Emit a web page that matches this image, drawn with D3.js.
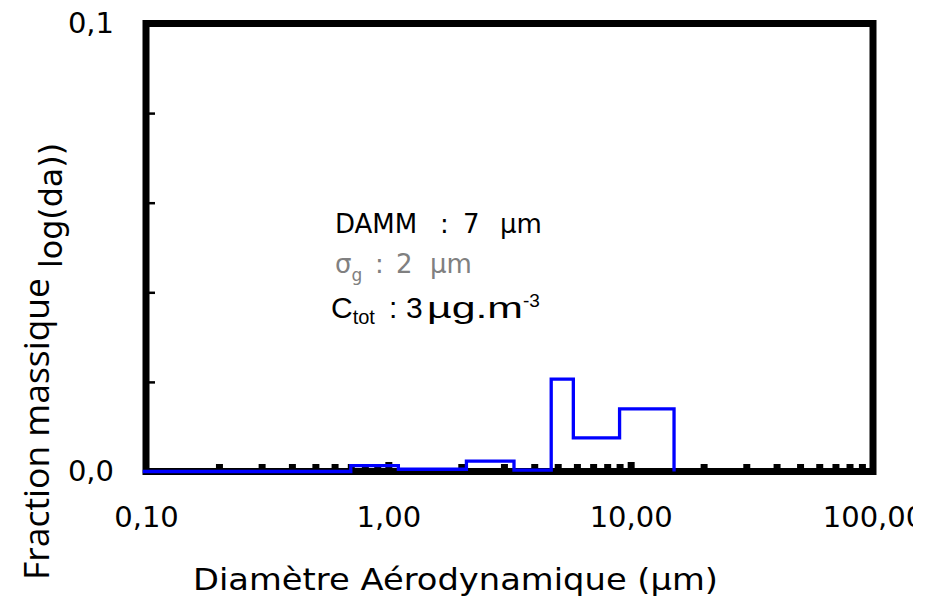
<!DOCTYPE html>
<html>
<head>
<meta charset="utf-8">
<script src="https://cdn.jsdelivr.net/npm/d3@7"></script>
<style>
  html, body { margin: 0; padding: 0; background: #fff; }
  svg { display: block; }
</style>
</head>
<body>
<div id="chart"></div>
<script>
// Impactor size bins (µm): lower edges, last entry is the upper edge of the last bin
const binEdges = [0.097, 0.7, 1.1, 2.1, 3.3, 4.7, 5.8, 9.0, 15.1];
// Mass fraction per bin, dM/dlog(da)
const massFraction = [0, 0.0013, 0.0005, 0.0023, 0.0003, 0.0206, 0.0075, 0.014];

const xLabelTicks = [0.1, 1, 10, 100];
const yLabelTicks = [0, 0.1];
const yMinorTicks = [0.02, 0.04, 0.06, 0.08];

const annotation = {
  dammValue: "7",
  sigmaValue: "2",
  ctotValue: "3",
  unit: "µm",
  ctotUnit: "µg.m"
};

const width = 913, height = 602;
const x0 = 146, x1 = 873, yTop = 23.5, yBottom = 471.5;

const fr = d3.formatLocale({ decimal: ",", thousands: " ", grouping: [3], currency: ["", ""] });

const svg = d3.select("#chart").append("svg")
  .attr("width", width).attr("height", height);

const x = d3.scaleLog().domain([0.1, 100]).range([x0, x1]);
const y = d3.scaleLinear().domain([0, 0.1]).range([yBottom, yTop]);

// plot frame
svg.append("rect")
  .attr("x", x0).attr("y", yTop)
  .attr("width", x1 - x0).attr("height", yBottom - yTop)
  .attr("fill", "none").attr("stroke", "#000").attr("stroke-width", 7);

// x minor / major ticks pointing inward from the bottom frame
const logTicks = [];
for (let dec = 0.1; dec < 100; dec *= 10) {
  for (let k = 1; k < 10; k++) logTicks.push(+(dec * k).toPrecision(3));
}
const xMinor = logTicks.filter(v => v > 0.1 && ![1, 10].includes(v));
const xMajor = [1, 10];

const tickStyle = g => {
  g.select(".domain").remove();
  g.selectAll(".tick line").attr("stroke", "#000").attr("stroke-width", 7);
};
svg.append("g").attr("transform", `translate(0,${yBottom})`)
  .call(d3.axisBottom(x).tickValues(xMinor).tickSize(-7.5).tickFormat(""))
  .call(tickStyle);
svg.append("g").attr("transform", `translate(0,${yBottom})`)
  .call(d3.axisBottom(x).tickValues(xMajor).tickSize(-9.5).tickFormat(""))
  .call(tickStyle);

// y ticks pointing inward from the left frame
svg.append("g").attr("transform", `translate(${x0},0)`)
  .call(d3.axisLeft(y).tickValues(yMinorTicks).tickSize(-9).tickFormat(""))
  .call(g => {
    g.select(".domain").remove();
    g.selectAll(".tick line").attr("stroke", "#000").attr("stroke-width", 2.5);
  });

// tick labels
svg.append("g").attr("transform", `translate(0,${yBottom})`)
  .call(d3.axisBottom(x).tickValues(xLabelTicks).tickSize(0).tickPadding(35)
    .tickFormat(fr.format(".2f")))
  .call(g => {
    g.select(".domain").remove();
    g.selectAll("text").attr("font-family", "DejaVu Sans").attr("font-size", 29).attr("fill", "#000");
  });
svg.append("g").attr("transform", `translate(${x0},0)`)
  .call(d3.axisLeft(y).tickValues(yLabelTicks).tickSize(0).tickPadding(32)
    .tickFormat(fr.format(".1f")))
  .call(g => {
    g.select(".domain").remove();
    g.selectAll("text").attr("font-family", "DejaVu Sans").attr("font-size", 29).attr("fill", "#000");
  });

// size distribution histogram drawn as a step outline
const stepPoints = binEdges.map((e, i) => [e, i < massFraction.length ? massFraction[i] : 0]);
const step = d3.line()
  .x(d => x(d[0])).y(d => y(d[1]))
  .curve(d3.curveStepAfter);
svg.append("path")
  .datum(stepPoints)
  .attr("d", step)
  .attr("fill", "none")
  .attr("stroke", "#0000ff")
  .attr("stroke-width", 3.3);

// axis titles
svg.append("text")
  .attr("transform", "translate(49,580) rotate(-90)")
  .attr("font-family", "Open Sans").attr("font-size", 35)
  .attr("textLength", 302).attr("lengthAdjust", "spacingAndGlyphs")
  .text("Fraction massique");
svg.append("text")
  .attr("transform", "translate(62,268) rotate(-90)")
  .attr("font-family", "DejaVu Sans").attr("font-size", 32)
  .attr("textLength", 125).attr("lengthAdjust", "spacingAndGlyphs")
  .text("log(da))");

svg.append("text")
  .attr("x", 193).attr("y", 590)
  .attr("font-family", "DejaVu Sans").attr("font-size", 30)
  .attr("textLength", 525).attr("lengthAdjust", "spacingAndGlyphs")
  .text("Diamètre Aérodynamique (µm)");

// parameter annotation
const ann = svg.append("g");
const l1 = ann.append("text").attr("y", 233.3)
  .attr("font-family", "DejaVu Sans").attr("font-size", 26).attr("fill", "#000");
l1.append("tspan").attr("x", 335).text("DAMM");
l1.append("tspan").attr("x", 440).text(":");
l1.append("tspan").attr("x", 463).text(annotation.dammValue);
l1.append("tspan").attr("x", 500).text(annotation.unit);

const l2 = ann.append("text").attr("y", 273.3)
  .attr("font-family", "DejaVu Sans").attr("font-size", 26).attr("fill", "#808080");
l2.append("tspan").attr("x", 335).text("σ");
l2.append("tspan").attr("dy", 8).attr("font-size", 17).text("g");
l2.append("tspan").attr("x", 375).attr("dy", -8).text(":");
l2.append("tspan").attr("x", 396).text(annotation.sigmaValue);
l2.append("tspan").attr("x", 430).text(annotation.unit);

const l3 = ann.append("text").attr("y", 318.3)
  .attr("font-family", "Liberation Sans").attr("font-size", 30).attr("fill", "#000");
l3.append("tspan").attr("x", 331).text("C");
l3.append("tspan").attr("dy", 6).attr("font-size", 20).text("tot");
l3.append("tspan").attr("x", 389).attr("dy", -6).text(":");
l3.append("tspan").attr("x", 406).text(annotation.ctotValue);
l3.append("tspan").attr("x", 427)
  .attr("textLength", 96).attr("lengthAdjust", "spacingAndGlyphs").text(annotation.ctotUnit);
l3.append("tspan").attr("dy", -11).attr("font-size", 19).text("-3");
</script>
</body>
</html>
